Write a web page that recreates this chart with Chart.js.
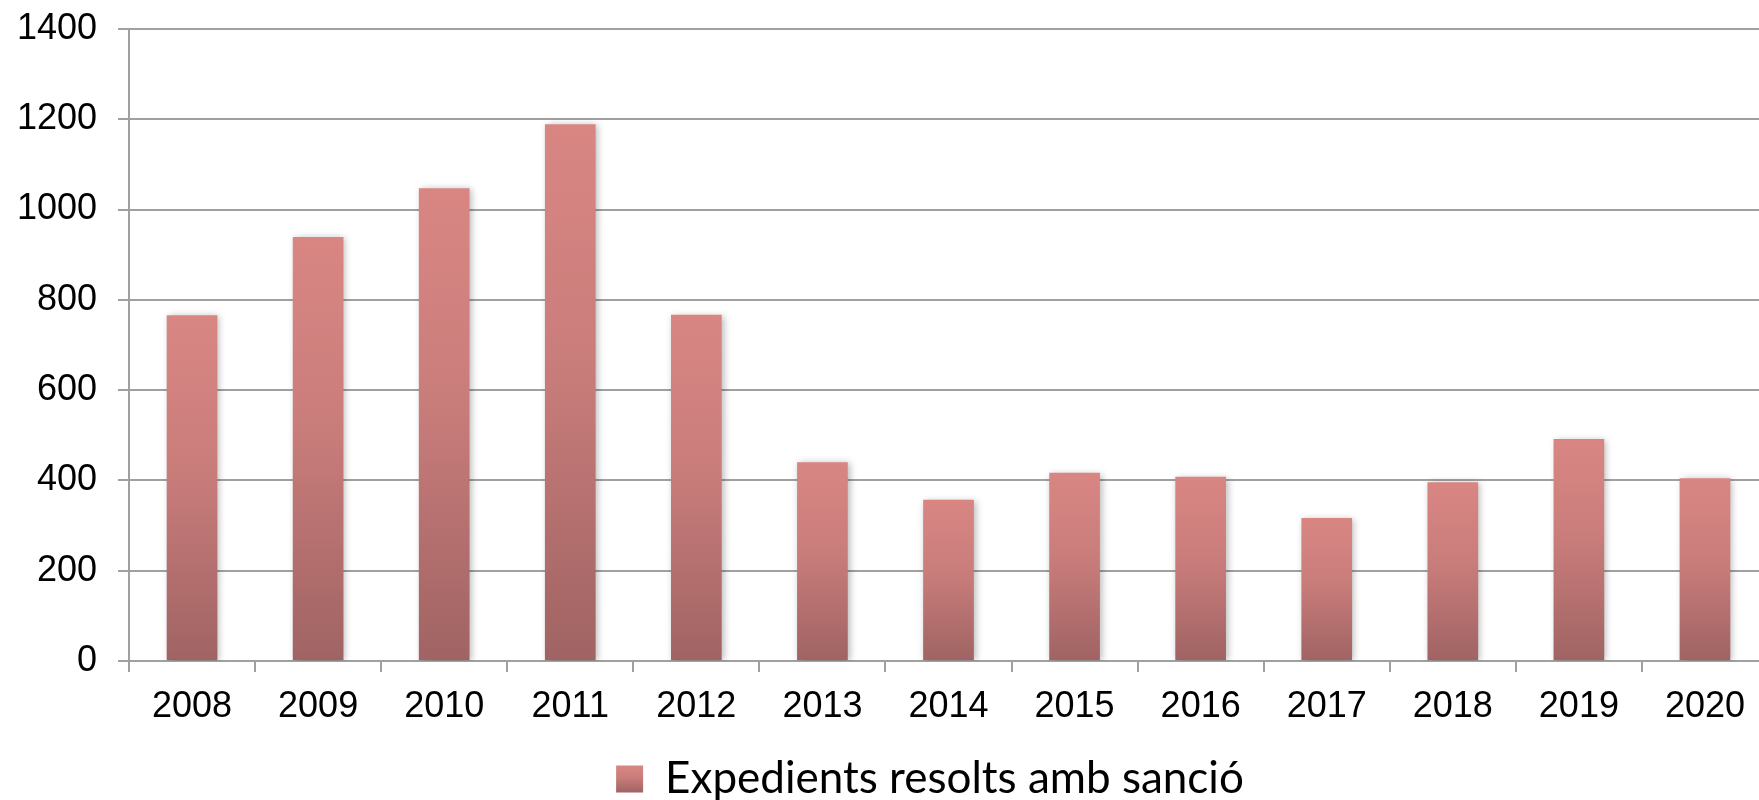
<!DOCTYPE html>
<html>
<head>
<meta charset="utf-8">
<script src="https://cdn.jsdelivr.net/npm/chart.js@4"></script>
<style>
  html, body { margin: 0; padding: 0; background: #fff; overflow: hidden; width: 1759px; height: 800px; }
  #wrap { position: absolute; left: 0; top: 0; width: 1860px; height: 811px; }
</style>
</head>
<body>
<div id="wrap"><canvas id="c" width="1860" height="811"></canvas></div>
<script>
const categories = ['2008','2009','2010','2011','2012','2013','2014','2015','2016','2017','2018','2019','2020'];
const seriesName = 'Expedients resolts amb sanció';
const values = [766, 939, 1047, 1189, 767, 440, 357, 417, 408, 317, 396, 492, 405];
const yTicks = [0, 200, 400, 600, 800, 1000, 1200, 1400];

const TOP_COL = '#d98683';
const MID_COL = '#c97d7b';
const BOT_COL = '#a06363';
const LEGEND_SHIFT = 46;

function barGradient(ctx, top, bottom) {
  const g = ctx.createLinearGradient(0, top, 0, bottom);
  g.addColorStop(0, TOP_COL);
  g.addColorStop(0.45, MID_COL);
  g.addColorStop(1, BOT_COL);
  return g;
}

const shadowPlugin = {
  id: 'barShadow',
  beforeDatasetsDraw(chart) {
    const ctx = chart.ctx;
    ctx.save();
    ctx.shadowColor = 'rgba(0,0,0,0.28)';
    ctx.shadowBlur = 7;
    ctx.shadowOffsetX = 2;
    ctx.shadowOffsetY = 1;
  },
  afterDatasetsDraw(chart) {
    chart.ctx.restore();
  }
};

const legendShiftPlugin = {
  id: 'legendShift',
  afterLayout(chart) {
    const lg = chart.legend;
    if (!lg) return;
    lg.left += LEGEND_SHIFT;
    lg.right += LEGEND_SHIFT;
  },
  afterDraw(chart) {
    const lg = chart.legend;
    if (!lg || !lg.lineWidths) return;
    const lab = lg.options.labels;
    const pad = lab.padding;
    const fontSize = lab.font.size;
    const bw = lab.boxWidth, bh = lab.boxHeight;
    const itemH = Math.max(fontSize, bh);
    const itemW = lg.lineWidths[0] - pad;
    const x = (lg.left + lg.right - itemW) / 2;
    const yc = lg.top + pad + itemH / 2;
    const y = yc - bh / 2;
    const ctx = chart.ctx;
    ctx.save();
    ctx.fillStyle = barGradient(ctx, y, y + bh);
    ctx.fillRect(x, y, bw, bh);
    ctx.restore();
  }
};

new Chart(document.getElementById('c'), {
  type: 'bar',
  data: {
    labels: categories,
    datasets: [{
      label: seriesName,
      data: values,
      backgroundColor: (c) => {
        const chart = c.chart;
        const y = chart.scales && chart.scales.y;
        if (c.type !== 'data' || !y || c.parsed == null) return MID_COL;
        const top = y.getPixelForValue(c.parsed.y);
        const bot = y.getPixelForValue(0);
        if (!isFinite(top) || !isFinite(bot)) return MID_COL;
        return barGradient(chart.ctx, top, bot);
      },
      borderWidth: 0,
      categoryPercentage: 1.0,
      barPercentage: 0.402
    }]
  },
  options: {
    responsive: false,
    animation: false,
    devicePixelRatio: 1,
    layout: { padding: { left: 0, right: 92, top: 29, bottom: 0 } },
    plugins: {
      tooltip: { enabled: false },
      legend: {
        position: 'bottom',
        labels: {
          color: '#000',
          font: { family: 'Lato', size: 44 },
          boxWidth: 27,
          boxHeight: 27,
          padding: 10,
          generateLabels(chart) {
            return chart.data.datasets.map((ds, i) => ({
              text: ds.label,
              fillStyle: 'rgba(0,0,0,0)',
              strokeStyle: 'rgba(0,0,0,0)',
              lineWidth: 0,
              fontColor: '#000',
              hidden: false,
              datasetIndex: i
            }));
          }
        }
      }
    },
    scales: {
      x: {
        grid: { display: true, drawOnChartArea: false, drawTicks: true, tickLength: 11, color: '#a0a0a0', lineWidth: 2, offset: true },
        border: { display: true, color: '#a0a0a0', width: 2 },
        ticks: { color: '#000', font: { family: 'Liberation Sans', size: 36 }, padding: 13, maxRotation: 0 },
        afterFit(s) { s.height = 86; }
      },
      y: {
        min: 0, max: 1400,
        afterBuildTicks(s) { s.ticks = yTicks.map(v => ({ value: v })); },
        grid: { color: '#a0a0a0', lineWidth: 2, tickLength: 11, drawTicks: true },
        border: { display: true, color: '#a0a0a0', width: 2 },
        ticks: { color: '#000', font: { family: 'Liberation Sans', size: 36 }, padding: 21, callback: (v) => String(v) },
        afterFit(s) { s.width = 129; s.paddingTop = 0; s.paddingBottom = 0; }
      }
    }
  },
  plugins: [shadowPlugin, legendShiftPlugin]
});
</script>
</body>
</html>
